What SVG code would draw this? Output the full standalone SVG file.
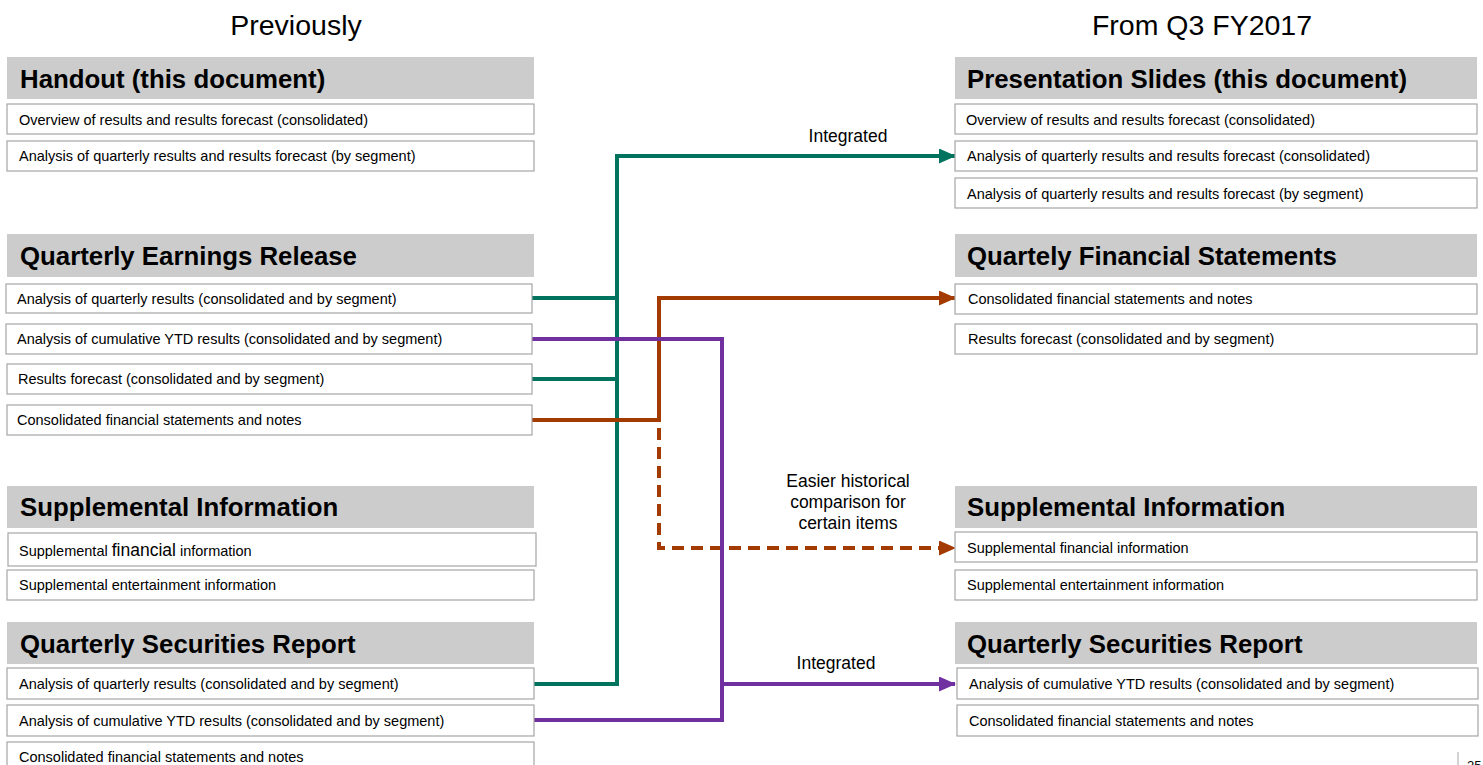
<svg xmlns="http://www.w3.org/2000/svg" width="1483" height="765" viewBox="0 0 1483 765">
<style>
.hd{fill:#cccccc}
.bx{fill:#ffffff;stroke:#a6a6a6;stroke-width:1.2}
.ht{font-family:"Liberation Sans",Arial,sans-serif;font-weight:bold;font-size:25.8px;fill:#000}
.bt{font-family:"Liberation Sans",Arial,sans-serif;font-size:14.5px;fill:#000}
.tt{font-family:"Liberation Sans",Arial,sans-serif;font-size:28.5px;fill:#000}
.lb{font-family:"Liberation Sans",Arial,sans-serif;font-size:17.5px;fill:#000;text-anchor:middle}
.ln{fill:none;stroke-width:4;stroke-linejoin:miter}
.teal{stroke:#00735F}
.brn{stroke:#A33A00}
.pur{stroke:#7030A0}
</style>
<defs>
<marker id="aT" markerUnits="userSpaceOnUse" markerWidth="17" markerHeight="15" refX="16" refY="7.5" orient="auto"><path d="M0,0 L17,7.5 L0,15 Z" fill="#00735F"/></marker>
<marker id="aB" markerUnits="userSpaceOnUse" markerWidth="17" markerHeight="15" refX="16" refY="7.5" orient="auto"><path d="M0,0 L17,7.5 L0,15 Z" fill="#A33A00"/></marker>
<marker id="aP" markerUnits="userSpaceOnUse" markerWidth="17" markerHeight="15" refX="16" refY="7.5" orient="auto"><path d="M0,0 L17,7.5 L0,15 Z" fill="#7030A0"/></marker>
</defs>
<rect width="1483" height="765" fill="#ffffff"/>
<text class="tt" x="296" y="35" text-anchor="middle">Previously</text>
<text class="tt" x="1202" y="35" text-anchor="middle">From Q3 FY2017</text>

<g id="connectors">
<path class="ln teal" d="M532,298 H617"/>
<path class="ln teal" d="M532,379 H617"/>
<path class="ln teal" d="M534,684 H617 V156 H955" marker-end="url(#aT)"/>
<path class="ln brn" d="M532,420 H659 V298 H955" marker-end="url(#aB)"/>
<path class="ln brn" d="M659,428 V548 H955" stroke-dasharray="12,7" marker-end="url(#aB)"/>
<path class="ln pur" d="M532,339 H722 V720 H534"/>
<path class="ln pur" d="M722,684 H955" marker-end="url(#aP)"/>
<text class="lb" x="848" y="142">Integrated</text>
<text class="lb" x="836" y="669">Integrated</text>
<text class="lb" x="848" y="487">Easier historical</text>
<text class="lb" x="848" y="508">comparison for</text>
<text class="lb" x="848" y="529">certain items</text>
</g>

<g id="handout">
<rect class="hd" x="7" y="57" width="527" height="42"/>
<text class="ht" x="20" y="88">Handout (this document)</text>
<rect class="bx" x="7" y="104" width="527" height="30"/>
<text class="bt" x="19" y="125">Overview of results and results forecast (consolidated)</text>
<rect class="bx" x="7" y="141" width="527" height="30"/>
<text class="bt" x="19" y="161">Analysis of quarterly results and results forecast (by segment)</text>
</g>

<g id="earnings">
<rect class="hd" x="7" y="234" width="527" height="43"/>
<text class="ht" x="20" y="265">Quarterly Earnings Release</text>
<rect class="bx" x="6" y="284" width="526" height="29"/>
<text class="bt" x="17" y="304">Analysis of quarterly results (consolidated and by segment)</text>
<rect class="bx" x="6" y="324" width="526" height="30"/>
<text class="bt" x="17" y="344">Analysis of cumulative YTD results (consolidated and by segment)</text>
<rect class="bx" x="7" y="364" width="525" height="30"/>
<text class="bt" x="18" y="384">Results forecast (consolidated and by segment)</text>
<rect class="bx" x="7" y="405" width="525" height="30"/>
<text class="bt" x="17" y="425">Consolidated financial statements and notes</text>
</g>

<g id="supp-left">
<rect class="hd" x="7" y="486" width="527" height="42"/>
<text class="ht" x="20" y="516">Supplemental Information</text>
<rect class="bx" x="8" y="533" width="528" height="33"/>
<text class="bt" x="19" y="556">Supplemental <tspan font-size="17.5px">financial</tspan> information</text>
<rect class="bx" x="7" y="570" width="527" height="30"/>
<text class="bt" x="19" y="590">Supplemental entertainment information</text>
</g>

<g id="qsr-left">
<rect class="hd" x="7" y="622" width="527" height="42"/>
<text class="ht" x="20" y="653">Quarterly Securities Report</text>
<rect class="bx" x="7" y="668" width="527" height="31"/>
<text class="bt" x="19" y="689">Analysis of quarterly results (consolidated and by segment)</text>
<rect class="bx" x="7" y="705" width="527" height="31"/>
<text class="bt" x="19" y="726">Analysis of cumulative YTD results (consolidated and by segment)</text>
<rect class="bx" x="7" y="742" width="527" height="31"/>
<text class="bt" x="19" y="762">Consolidated financial statements and notes</text>
</g>

<g id="slides">
<rect class="hd" x="955" y="57" width="522" height="42"/>
<text class="ht" x="967" y="88">Presentation Slides (this document)</text>
<rect class="bx" x="955" y="104" width="522" height="30"/>
<text class="bt" x="966" y="125">Overview of results and results forecast (consolidated)</text>
<rect class="bx" x="955" y="141" width="522" height="30"/>
<text class="bt" x="967" y="161">Analysis of quarterly results and results forecast (consolidated)</text>
<rect class="bx" x="955" y="178" width="522" height="30"/>
<text class="bt" x="967" y="199">Analysis of quarterly results and results forecast (by segment)</text>
</g>

<g id="fin-statements">
<rect class="hd" x="955" y="234" width="522" height="43"/>
<text class="ht" x="967" y="265">Quartely Financial Statements</text>
<rect class="bx" x="955" y="284" width="522" height="30"/>
<text class="bt" x="968" y="304">Consolidated financial statements and notes</text>
<rect class="bx" x="955" y="324" width="522" height="30"/>
<text class="bt" x="968" y="344">Results forecast (consolidated and by segment)</text>
</g>

<g id="supp-right">
<rect class="hd" x="955" y="486" width="522" height="42"/>
<text class="ht" x="967" y="516">Supplemental Information</text>
<rect class="bx" x="955" y="532" width="522" height="30"/>
<text class="bt" x="967" y="553">Supplemental financial information</text>
<rect class="bx" x="955" y="570" width="522" height="30"/>
<text class="bt" x="967" y="590">Supplemental entertainment information</text>
</g>

<g id="qsr-right">
<rect class="hd" x="955" y="622" width="522" height="42"/>
<text class="ht" x="967" y="653">Quarterly Securities Report</text>
<rect class="bx" x="957" y="668" width="521" height="31"/>
<text class="bt" x="969" y="689">Analysis of cumulative YTD results (consolidated and by segment)</text>
<rect class="bx" x="957" y="705" width="521" height="31"/>
<text class="bt" x="969" y="726">Consolidated financial statements and notes</text>
</g>

<g id="page-number">
<line x1="1458" y1="752" x2="1458" y2="765" stroke="#a6a6a6" stroke-width="1"/>
<text x="1467" y="770" font-family="Liberation Sans, Arial, sans-serif" font-size="13px" fill="#000">25</text>
</g>
</svg>
